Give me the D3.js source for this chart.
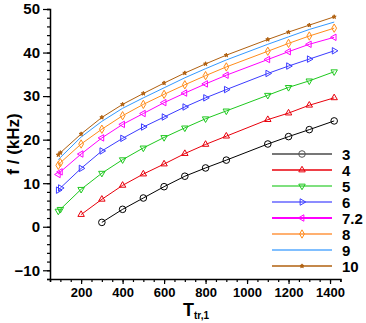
<!DOCTYPE html>
<html>
<head>
<meta charset="utf-8">
<script src="https://cdn.jsdelivr.net/npm/d3@7"></script>
<style>
  body { margin: 0; background: #fff; }
  text { font-family: "Liberation Sans", Arial, sans-serif; font-weight: bold; }
</style>
</head>
<body>
<div id="chart"></div>
<script>
// Data
const seriesNames = ["3", "4", "5", "6", "7.2", "8", "9", "10"];
const seriesColors = ["#000000", "#e8000b", "#1ec81e", "#3b3bff", "#ff00ff", "#ff8c1a", "#3399ff", "#b0600f"];
const legendColors = ["#777777", "#e8000b", "#7fe07f", "#8c8cff", "#ff00ff", "#ffb070", "#80bfff", "#b0600f"];

const xLow = [90, 100, 200, 300, 400, 500, 600, 700, 800, 900, 1100, 1200, 1300, 1420];
const xFrom200 = [200, 300, 400, 500, 600, 700, 800, 900, 1100, 1200, 1300, 1420];
const xFrom300 = [300, 400, 500, 600, 700, 800, 900, 1100, 1200, 1300, 1420];

const f3 = [1.0, 4.0, 6.6, 9.2, 11.6, 13.5, 15.3, 19.0, 20.7, 22.3, 24.3];
const f4 = [2.8, 6.3, 9.5, 12.1, 14.4, 16.8, 18.9, 20.8, 24.6, 26.1, 27.9, 29.6];
const f5 = [3.6, 4.0, 8.6, 12.3, 15.4, 18.1, 20.5, 22.7, 24.8, 26.6, 30.2, 32.0, 33.5, 35.6];
const f6 = [8.4, 8.9, 13.4, 17.4, 20.3, 22.9, 25.2, 27.5, 29.6, 31.5, 35.2, 36.9, 38.5, 40.4];
const f72 = [12.0, 12.6, 16.7, 20.4, 23.5, 26.0, 28.5, 30.7, 32.8, 34.8, 38.4, 40.2, 41.9, 43.5];
const f8 = [14.1, 14.7, 19.0, 22.4, 25.5, 28.1, 30.4, 32.6, 34.7, 36.7, 40.3, 42.1, 43.8, 45.6];
const f9 = [15.4, 15.9, 20.6, 24.2, 27.2, 29.6, 31.9, 34.2, 36.3, 38.3, 41.9, 43.6, 45.3, 47.0];
const f10 = [16.5, 17.0, 21.3, 25.1, 28.1, 30.6, 33.0, 35.3, 37.4, 39.4, 43.0, 44.7, 46.3, 48.2];

const seriesX = [xFrom300, xFrom200, xLow, xLow, xLow, xLow, xLow, xLow];
const seriesY = [f3, f4, f5, f6, f72, f8, f9, f10];
// marker kind for each series
const markerKinds = ["circle", "triUp", "triDown", "triRight", "triLeft", "diamond", "none", "star"];

const xMajor = [200, 400, 600, 800, 1000, 1200, 1400];
const yMajor = [-10, 0, 10, 20, 30, 40, 50];

const width = 366;
const height = 323;

const svg = d3.select("#chart")
  .append("svg")
  .attr("width", width)
  .attr("height", height);

const xScale = d3.scaleLinear().domain([50, 1450]).range([50, 340.4]);
const yScale = d3.scaleLinear().domain([-12, 50]).range([279, 9]);

// draw one marker at (x, y)
function drawMarker(g, kind, x, y, color) {
  if (kind === "none") return;
  if (kind === "circle") {
    g.append("circle").attr("cx", x).attr("cy", y).attr("r", 3.3)
      .attr("fill", "none").attr("stroke", color).attr("stroke-width", 1);
    return;
  }
  let type = d3.symbolTriangle, size = 18, rot = 0, fill = "none";
  if (kind === "triDown") rot = 180;
  if (kind === "triRight") rot = 90;
  if (kind === "triLeft") rot = -90;
  if (kind === "diamond") { type = d3.symbolDiamond; size = 20; }
  if (kind === "star") { type = d3.symbolStar; size = 5; fill = color; }
  g.append("path")
    .attr("d", d3.symbol().type(type).size(size)())
    .attr("transform", `translate(${x},${y}) rotate(${rot})`)
    .attr("fill", fill)
    .attr("stroke", color)
    .attr("stroke-width", 1);
}

// Axes
const yAxis = svg.append("g").attr("transform", "translate(50,0)");
yAxis.call(d3.axisLeft(yScale).tickValues(d3.range(-12, 51, 2)).tickSize(3).tickFormat(""));
yAxis.append("g").call(d3.axisLeft(yScale).tickValues(yMajor).tickSize(7).tickPadding(3))
  .call(g => g.select(".domain").remove())
  .selectAll("text").attr("font-size", 15).attr("fill", "#000")
  .style("font-family", "Liberation Sans, Arial, sans-serif").style("font-weight", "bold");

const xAxis = svg.append("g").attr("transform", "translate(0,279)");
xAxis.call(d3.axisBottom(xScale).tickValues(d3.range(50, 1451, 50)).tickSize(3).tickFormat(""));
xAxis.append("g").call(d3.axisBottom(xScale).tickValues(xMajor).tickSize(5).tickPadding(4).tickFormat(d3.format("d")))
  .call(g => g.select(".domain").remove())
  .selectAll("text").attr("font-size", 13).attr("fill", "#000")
  .style("font-family", "Liberation Sans, Arial, sans-serif").style("font-weight", "bold");

svg.selectAll(".domain").attr("stroke", "#000").attr("stroke-width", 1.5);
svg.selectAll(".tick line").attr("stroke", "#000").attr("stroke-width", 1.2);

// Axis titles
svg.append("text")
  .attr("transform", "translate(19,144) rotate(-90)")
  .attr("text-anchor", "middle")
  .attr("font-size", 17)
  .text("f / (kHz)");

const xt = svg.append("text").attr("x", 183).attr("y", 316).attr("font-size", 18);
xt.append("tspan").text("T");
xt.append("tspan").attr("font-size", 10).attr("dy", 3).text("tr,1");

// Lines and markers
const line = d3.line().x(d => xScale(d[0])).y(d => yScale(d[1]));

seriesNames.forEach((name, i) => {
  const pts = seriesX[i].map((x, j) => [x, seriesY[i][j]]);
  const g = svg.append("g").attr("class", "series");
  g.append("path")
    .datum(pts)
    .attr("d", line)
    .attr("fill", "none")
    .attr("stroke", seriesColors[i])
    .attr("stroke-width", 1);
  pts.forEach(p => drawMarker(g, markerKinds[i], xScale(p[0]), yScale(p[1]), seriesColors[i]));
});

// Legend
const legend = svg.append("g").attr("class", "legend");
seriesNames.forEach((name, i) => {
  const ly = 154 + i * 16;
  legend.append("line")
    .attr("x1", 272).attr("x2", 332).attr("y1", ly).attr("y2", ly)
    .attr("stroke", legendColors[i])
    .attr("stroke-width", (i === 1 || i === 7) ? 1.5 : 2.2);
  drawMarker(legend, markerKinds[i], 302, ly, seriesColors[i] === "#000000" ? "#555" : seriesColors[i]);
  legend.append("text")
    .attr("x", 342).attr("y", ly + 5.5)
    .attr("font-size", 15)
    .text(name);
});
</script>
</body>
</html>
